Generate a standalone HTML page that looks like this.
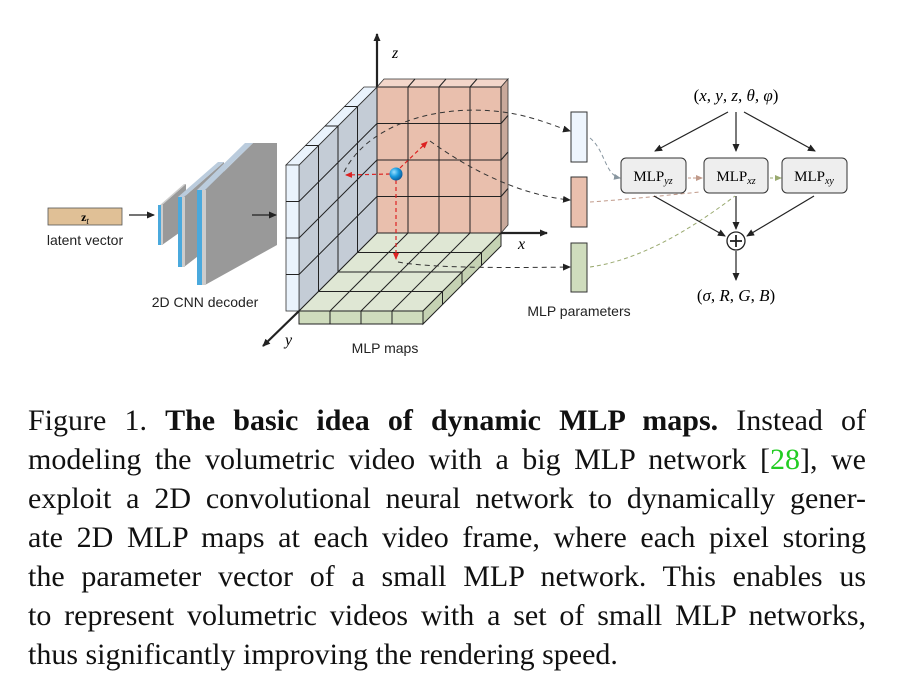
<!DOCTYPE html>
<html><head><meta charset="utf-8"><style>
body{margin:0;width:902px;height:687px;background:#fff;position:relative;overflow:hidden}
svg{position:absolute;left:0;top:0}
.cap{position:absolute;left:28px;width:838px;font-family:"Liberation Serif",serif;font-size:30px;word-spacing:0px;color:#111;line-height:39px}
.cap div{text-align:justify;text-align-last:justify;white-space:nowrap;height:39px}
.cap div.last{text-align-last:left}
</style></head><body>
<svg width="902" height="390" viewBox="0 0 902 390" font-family="Liberation Sans, sans-serif">
<defs>
<marker id="ah" markerWidth="8" markerHeight="8" refX="7" refY="4" orient="auto" markerUnits="userSpaceOnUse"><path d="M0,0.5 L8,4 L0,7.5 z" fill="#222"/></marker>
<marker id="ahr" markerWidth="7" markerHeight="7" refX="6" refY="3.5" orient="auto" markerUnits="userSpaceOnUse"><path d="M0,0.5 L7,3.5 L0,6.5 z" fill="#d22"/></marker>
<marker id="ahg" markerWidth="7" markerHeight="7" refX="6" refY="3.5" orient="auto" markerUnits="userSpaceOnUse"><path d="M0,0.5 L7,3.5 L0,6.5 z" fill="#8896a0"/></marker>
<marker id="ahp" markerWidth="7" markerHeight="7" refX="6" refY="3.5" orient="auto" markerUnits="userSpaceOnUse"><path d="M0,0.5 L7,3.5 L0,6.5 z" fill="#c09a8a"/></marker>
<marker id="ahv" markerWidth="7" markerHeight="7" refX="6" refY="3.5" orient="auto" markerUnits="userSpaceOnUse"><path d="M0,0.5 L7,3.5 L0,6.5 z" fill="#9aaa70"/></marker>
<radialGradient id="sph" cx="0.35" cy="0.35" r="0.7"><stop offset="0" stop-color="#9be0ff"/><stop offset="0.5" stop-color="#1a9ce0"/><stop offset="1" stop-color="#0b5a9a"/></radialGradient>
</defs>
<rect x="48" y="208" width="74" height="17" fill="#e0c096" stroke="#555" stroke-width="0.8"/>
<text x="85" y="221" font-family="Liberation Serif,serif" font-weight="bold" font-size="12" text-anchor="middle">z<tspan font-size="9" dy="3" font-style="italic" font-weight="normal">t</tspan></text>
<text x="85" y="245" font-size="14" text-anchor="middle" fill="#222">latent vector</text>
<line x1="129" y1="215" x2="154" y2="215" stroke="#222" stroke-width="1.3" marker-end="url(#ah)"/>
<polygon points="162,205 186,184 186,228 162,245" fill="#999"/>
<polygon points="160,205 184,184 186,184 162,205" fill="#ccc"/>
<rect x="158" y="205" width="3" height="40" fill="#4aa9dd"/>
<rect x="161" y="205" width="2" height="40" fill="#ccc"/>
<polygon points="184,197 224,162 224,236 184,267" fill="#999"/>
<polygon points="178,197 218,162 224,162 184,197" fill="#bcd"/>
<rect x="178" y="197" width="4" height="70" fill="#4aa9dd"/>
<rect x="182" y="197" width="3" height="70" fill="#ccc"/>
<polygon points="205,190 253,143 277,143 277,245 205,285" fill="#999"/>
<polygon points="197,190 245,143 253,143 205,190" fill="#bcd"/>
<rect x="197" y="190" width="5" height="95" fill="#4aa9dd"/>
<rect x="202" y="190" width="4" height="95" fill="#ccc"/>
<text x="205" y="307" font-size="14" text-anchor="middle" fill="#222">2D CNN decoder</text>
<line x1="252" y1="215" x2="276" y2="215" stroke="#222" stroke-width="1.3" marker-end="url(#ah)"/>
<line x1="377" y1="233" x2="377" y2="34" stroke="#222" stroke-width="2.2" marker-end="url(#ah)"/>
<text x="392" y="58" font-family="Liberation Serif,serif" font-style="italic" font-size="16">z</text>
<polygon points="377,87 501,87 508,79 384,79" fill="#f3d6ca" stroke="#333" stroke-width="0.8"/>
<polygon points="501,87 508,79 508,225 501,233" fill="#c9a99b" stroke="#333" stroke-width="0.8"/>
<rect x="377" y="87" width="124" height="146" fill="#e9bfad" stroke="#222" stroke-width="1"/>
<g stroke="#222" stroke-width="1">
<line x1="408" y1="87" x2="408" y2="233"/><line x1="439" y1="87" x2="439" y2="233"/><line x1="470" y1="87" x2="470" y2="233"/>
<line x1="408" y1="87" x2="415" y2="79"/><line x1="439" y1="87" x2="446" y2="79"/><line x1="470" y1="87" x2="477" y2="79"/>
<line x1="377" y1="123.5" x2="501" y2="123.5"/><line x1="377" y1="160" x2="501" y2="160"/><line x1="377" y1="196.5" x2="501" y2="196.5"/>
<line x1="501" y1="123.5" x2="508" y2="115.5"/><line x1="501" y1="160" x2="508" y2="152"/><line x1="501" y1="196.5" x2="508" y2="188.5"/>
</g>
<polygon points="377,87 377,233 299,311 299,165" fill="#c4ccd6" stroke="#222" stroke-width="1"/>
<polygon points="286,165 299,165 377,87 364,87" fill="#eaf3fc" stroke="#333" stroke-width="0.8"/>
<rect x="286" y="165" width="13" height="146" fill="#eaf3fc" stroke="#333" stroke-width="0.8"/>
<g stroke="#222" stroke-width="1">
<line x1="357.5" y1="252.5" x2="357.5" y2="106.5"/><line x1="338" y1="272" x2="338" y2="126"/><line x1="318.5" y1="291.5" x2="318.5" y2="145.5"/>
<line x1="377" y1="196.5" x2="299" y2="274.5"/><line x1="377" y1="160" x2="299" y2="238"/><line x1="377" y1="123.5" x2="299" y2="201.5"/>
<line x1="286" y1="201.5" x2="299" y2="201.5"/><line x1="286" y1="238" x2="299" y2="238"/><line x1="286" y1="274.5" x2="299" y2="274.5"/>
<line x1="357.5" y1="106.5" x2="344.5" y2="106.5"/><line x1="338" y1="126" x2="325" y2="126"/><line x1="318.5" y1="145.5" x2="305.5" y2="145.5"/>
</g>
<polygon points="377,233 501,233 423,311 299,311" fill="#dfe7d4" stroke="#222" stroke-width="1"/>
<rect x="299" y="311" width="124" height="13" fill="#cfdcbd" stroke="#222" stroke-width="1"/>
<polygon points="423,311 501,233 501,246 423,324" fill="#c5d2b3" stroke="#222" stroke-width="1"/>
<g stroke="#222" stroke-width="1">
<line x1="357.5" y1="252.5" x2="481.5" y2="252.5"/><line x1="338" y1="272" x2="462" y2="272"/><line x1="318.5" y1="291.5" x2="442.5" y2="291.5"/>
<line x1="408" y1="233" x2="330" y2="311"/><line x1="439" y1="233" x2="361" y2="311"/><line x1="470" y1="233" x2="392" y2="311"/>
<line x1="330" y1="311" x2="330" y2="324"/><line x1="361" y1="311" x2="361" y2="324"/><line x1="392" y1="311" x2="392" y2="324"/>
<line x1="481.5" y1="252.5" x2="481.5" y2="265.5"/><line x1="462" y1="272" x2="462" y2="285"/><line x1="442.5" y1="291.5" x2="442.5" y2="304.5"/>
</g>
<line x1="501" y1="233" x2="547" y2="233" stroke="#222" stroke-width="2.2" marker-end="url(#ah)"/>
<text x="518" y="249" font-family="Liberation Serif,serif" font-style="italic" font-size="16">x</text>
<line x1="299" y1="311" x2="263" y2="346" stroke="#222" stroke-width="2.2" marker-end="url(#ah)"/>
<text x="285" y="345" font-family="Liberation Serif,serif" font-style="italic" font-size="16">y</text>
<text x="385" y="353" font-size="14" text-anchor="middle" fill="#222">MLP maps</text>
<g stroke="#d22" stroke-width="1.2" stroke-dasharray="4,3" fill="none">
<line x1="390" y1="174" x2="346" y2="175" marker-end="url(#ahr)"/>
<line x1="400" y1="168" x2="427" y2="142" marker-end="url(#ahr)"/>
<line x1="396" y1="180" x2="396" y2="259" marker-end="url(#ahr)"/>
</g>
<circle cx="396" cy="174" r="6.5" fill="url(#sph)"/>
<g stroke="#333" stroke-width="1" stroke-dasharray="5,4" fill="none">
<path d="M344,172 C370,120 450,100 520,115 C545,121 560,128 570,131" marker-end="url(#ah)"/>
<path d="M430,141 C470,170 520,195 570,200" marker-end="url(#ah)"/>
<path d="M398,262 C430,268 500,268 570,267" marker-end="url(#ah)"/>
</g>
<rect x="571" y="112" width="16" height="50" fill="#eef5fd" stroke="#333" stroke-width="1"/>
<rect x="571" y="177" width="16" height="50" fill="#e9bfad" stroke="#333" stroke-width="1"/>
<rect x="571" y="243" width="16" height="49" fill="#cfdcbd" stroke="#333" stroke-width="1"/>
<text x="579" y="316" font-size="14" text-anchor="middle" fill="#222">MLP parameters</text>
<path d="M590,138 C605,150 605,175 620,178" stroke="#8896a0" stroke-width="1" stroke-dasharray="4,3" fill="none" marker-end="url(#ahg)"/>
<path d="M590,202 C620,200 660,196 700,192" stroke="#c09a8a" stroke-width="1" stroke-dasharray="4,3" fill="none"/>
<path d="M590,267 C640,260 690,230 735,196" stroke="#9aaa70" stroke-width="1" stroke-dasharray="4,3" fill="none"/>
<line x1="688" y1="178" x2="702" y2="178" stroke="#c09a8a" stroke-width="1" stroke-dasharray="3,2" marker-end="url(#ahp)"/>
<line x1="770" y1="178" x2="781" y2="178" stroke="#9aaa70" stroke-width="1" stroke-dasharray="3,2" marker-end="url(#ahv)"/>
<text x="736" y="101" font-family="Liberation Serif,serif" font-size="17" text-anchor="middle">(<tspan font-style="italic">x</tspan>, <tspan font-style="italic">y</tspan>, <tspan font-style="italic">z</tspan>, <tspan font-style="italic">θ</tspan>, <tspan font-style="italic">φ</tspan>)</text>
<g stroke="#222" stroke-width="1.2" marker-end="url(#ah)">
<line x1="728" y1="112" x2="655" y2="151"/><line x1="736" y1="112" x2="736" y2="151"/><line x1="744" y1="112" x2="815" y2="151"/>
<line x1="654" y1="196" x2="725" y2="236"/><line x1="736" y1="196" x2="736" y2="229"/><line x1="814" y1="196" x2="747" y2="236"/>
<line x1="736" y1="251" x2="736" y2="280"/>
</g>
<g fill="#eee" stroke="#333" stroke-width="1">
<rect x="621" y="158" width="65" height="35" rx="5"/><rect x="704" y="158" width="64" height="35" rx="5"/><rect x="782" y="158" width="65" height="35" rx="5"/>
</g>
<g font-family="Liberation Serif,serif" font-size="15" text-anchor="middle">
<text x="653" y="181">MLP<tspan font-size="10" font-style="italic" dy="3">yz</tspan></text>
<text x="736" y="181">MLP<tspan font-size="10" font-style="italic" dy="3">xz</tspan></text>
<text x="814" y="181">MLP<tspan font-size="10" font-style="italic" dy="3">xy</tspan></text>
</g>
<circle cx="736" cy="241" r="9" fill="#fff" stroke="#222" stroke-width="1.3"/>
<line x1="730" y1="241" x2="742" y2="241" stroke="#222" stroke-width="1.8"/><line x1="736" y1="235" x2="736" y2="247" stroke="#222" stroke-width="1.8"/>
<text x="736" y="301" font-family="Liberation Serif,serif" font-size="17" text-anchor="middle">(<tspan font-style="italic">σ</tspan>, <tspan font-style="italic">R</tspan>, <tspan font-style="italic">G</tspan>, <tspan font-style="italic">B</tspan>)</text>
</svg>
<div class="cap" style="top:401px">
<div>Figure 1. <b>The basic idea of dynamic MLP maps.</b> Instead of</div>
<div>modeling the volumetric video with a big MLP network [<span style="color:#2c2">28</span>], we</div>
<div>exploit a 2D convolutional neural network to dynamically gener-</div>
<div>ate 2D MLP maps at each video frame, where each pixel storing</div>
<div>the parameter vector of a small MLP network. This enables us</div>
<div>to represent volumetric videos with a set of small MLP networks,</div>
<div class="last">thus significantly improving the rendering speed.</div>
</div>
</body></html>
